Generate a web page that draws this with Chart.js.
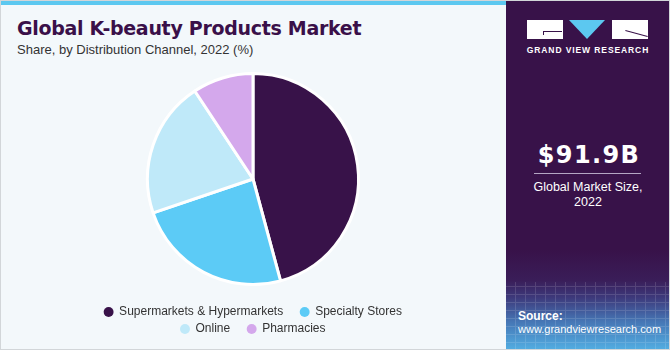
<!DOCTYPE html>
<html>
<head>
<meta charset="utf-8">
<script src="https://cdn.jsdelivr.net/npm/chart.js@4/dist/chart.umd.min.js"></script>
<style>
  body { margin: 0; background: #fff; }
  #wrap { position: relative; width: 670px; height: 350px; background: #f3f8fb; overflow: hidden;
          font-family: "Liberation Sans", Arial, sans-serif; }
  #frame { position: absolute; left: 0; top: 0; width: 668px; height: 348px; border: 1px solid #d2d6d9; pointer-events: none; }
  #topbar { position: absolute; left: 0; top: 0; width: 506px; height: 5px; background: #5cc8f0; }
  .t { position: absolute; white-space: nowrap; line-height: 1; }
  #title { left: 17px; top: 19px; font-family: "DejaVu Sans", sans-serif; font-weight: bold; font-size: 19px;
           letter-spacing: -0.3px; color: #3a1049; }
  #subtitle { left: 17px; top: 43px; font-size: 13px; color: #333; }
  #chartBox { position: absolute; left: 83px; top: 57px; width: 340px; height: 288px; }
  #panel { position: absolute; left: 506px; top: 0; width: 164px; height: 350px;
           background: linear-gradient(to bottom, #381249 0, #381249 250px, #3a1d58 280px, #3d3a7c 298px, #4677b6 322px, #52aee2 350px); }
  #grid { position: absolute; left: 0; top: 282px; width: 164px; height: 68px; opacity: 0.13;
          background:
            repeating-linear-gradient(90deg, transparent 0 9px, #fff 9px 10px),
            repeating-linear-gradient(0deg, transparent 0 7px, #fff 7px 8px); }
  .white { position: absolute; background: #fff; }
  .dark { position: absolute; background: #381249; }
  #tri { position: absolute; left: 63px; top: 20px; width: 0; height: 0;
         border-left: 18.5px solid transparent; border-right: 18.5px solid transparent; border-top: 19px solid #5cc8f0; }
  #gvr { left: 0; width: 164px; top: 46px; text-align: center; font-weight: bold; font-size: 8.5px;
         letter-spacing: 0.9px; color: #fff; }
  #big { left: 1px; width: 164px; top: 143px; text-align: center; font-family: "DejaVu Sans", sans-serif;
         font-weight: bold; font-size: 24px; letter-spacing: 1.4px; color: #fff; }
  #rule { position: absolute; left: 28px; top: 173px; width: 107px; height: 1px; background: #b4a6c4; }
  #size { left: 0; width: 164px; top: 180px; text-align: center; font-size: 12.5px; color: #fff; line-height: 15px; }
  #src1 { left: 12px; top: 310px; font-weight: bold; font-size: 12px; color: #fff; }
  #src2 { left: 12px; top: 324px; font-size: 11px; color: #fff; }
</style>
</head>
<body>
<div id="wrap">
  <div id="topbar"></div>
  <div class="t" id="title">Global K-beauty Products Market</div>
  <div class="t" id="subtitle">Share, by Distribution Channel, 2022 (%)</div>
  <div id="chartBox"><canvas id="myChart"></canvas></div>

  <div id="panel">
    <div id="grid"></div>
    <!-- logo -->
    <div class="white" style="left:21px;top:20px;width:36px;height:19px;"></div>
    <div class="dark" style="left:37px;top:31px;width:19px;height:1px;"></div>
    <div class="dark" style="left:37px;top:31px;width:1px;height:4px;"></div>
    <div id="tri"></div>
    <div class="white" style="left:106px;top:20px;width:36px;height:19px;"></div>
    <div class="dark" style="left:119px;top:33px;width:23px;height:1px;transform:rotate(15deg);"></div>
    <div class="t" id="gvr">GRAND VIEW RESEARCH</div>

    <div class="t" id="big">$91.9B</div>
    <div id="rule"></div>
    <div class="t" id="size">Global Market Size,<br>2022</div>

    <div class="t" id="src1">Source:</div>
    <div class="t" id="src2">www.grandviewresearch.com</div>
  </div>
  <div id="frame"></div>
</div>

<script>
// Distribution channel shares, 2022 (%)
const channels = ['Supermarkets & Hypermarkets', 'Specialty Stores', 'Online', 'Pharmacies'];
const shares = [45.8, 24.0, 20.9, 9.3];
const sliceColors = ['#381249', '#5ccbf6', '#bfe9f9', '#d4a8ec'];

// the legend items are spaced wider than tall, so pad each label and re-centre the rows
const legendGap = '\u2002\u2002';
const legendShift = {
  id: 'legendShift',
  afterLayout(chart) {
    chart.legend.left += 6;
    chart.legend.right += 6;
  }
};

const config = {
  type: 'pie',
  data: {
    labels: channels,
    datasets: [{
      data: shares,
      backgroundColor: sliceColors,
      borderColor: '#ffffff',
      borderWidth: 3
    }]
  },
  options: {
    responsive: true,
    maintainAspectRatio: false,
    animation: false,
    radius: 105.5,
    layout: { padding: 0 },
    plugins: {
      tooltip: { enabled: false },
      legend: {
        position: 'bottom',
        labels: {
          usePointStyle: true,
          pointStyle: 'circle',
          boxWidth: 9,
          boxHeight: 7,
          padding: 5,
          color: '#333',
          font: { family: 'Liberation Sans', size: 12 },
          generateLabels(chart) {
            const items = Chart.overrides.doughnut.plugins.legend.labels.generateLabels(chart);
            return items.map(it => ({ ...it, text: it.text + legendGap, lineWidth: 0 }));
          }
        }
      }
    }
  },
  plugins: [legendShift]
};

new Chart(document.getElementById('myChart'), config);
</script>
</body>
</html>
